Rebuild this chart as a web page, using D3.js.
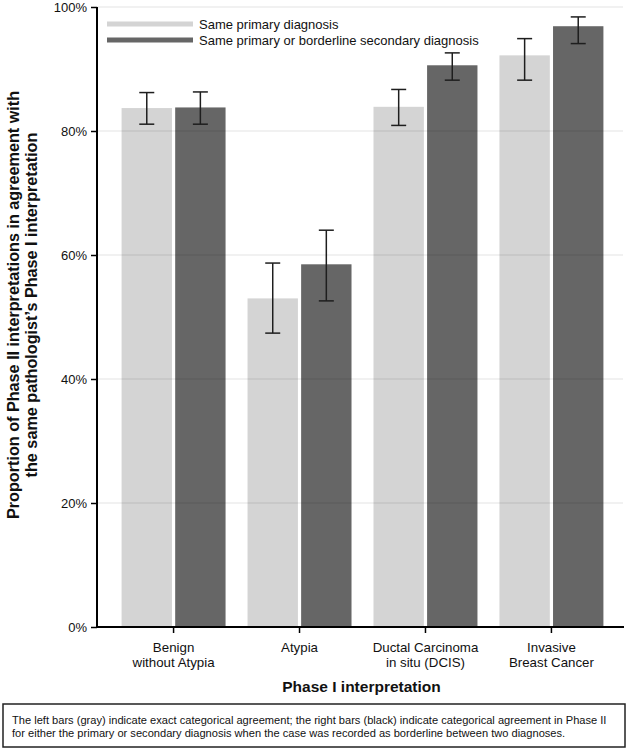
<!DOCTYPE html>
<html>
<head>
<meta charset="utf-8">
<script src="https://cdn.jsdelivr.net/npm/d3@7"></script>
<style>
  html, body { margin: 0; padding: 0; background: #fff; }
  svg { display: block; font-family: "Liberation Sans", Arial, sans-serif; }
</style>
</head>
<body>
<svg id="chart" width="628" height="750"></svg>
<script>
// ---- data ----
const categories = ["Benign\nwithout Atypia", "Atypia", "Ductal Carcinoma\nin situ (DCIS)", "Invasive\nBreast Cancer"];
const seriesNames = ["Same primary diagnosis", "Same primary or borderline secondary diagnosis"];
const samePrimary      = [83.7, 53.0, 83.9, 92.2];
const samePrimaryLow   = [81.1, 47.4, 80.9, 88.2];
const samePrimaryHigh  = [86.2, 58.7, 86.7, 94.9];
const sameOrBorder     = [83.8, 58.5, 90.6, 96.9];
const sameOrBorderLow  = [81.1, 52.6, 88.2, 94.1];
const sameOrBorderHigh = [86.3, 64.0, 92.6, 98.4];
const yTicks = [0, 20, 40, 60, 80, 100];
const yTitle = ["Proportion of Phase II interpretations in agreement with", "the same pathologist\u2019s Phase I interpretation"];
const xTitle = "Phase I interpretation";
const note = ["The left bars (gray) indicate exact categorical agreement; the right bars (black) indicate categorical agreement in Phase II",
              "for either the primary or secondary diagnosis when the case was recorded as borderline between two diagnoses."];

const colors = ["#d4d4d4", "#666666"];

const rows = categories.map((c, i) => ({
  cat: c,
  vals: [
    {s: 0, v: samePrimary[i], lo: samePrimaryLow[i], hi: samePrimaryHigh[i]},
    {s: 1, v: sameOrBorder[i], lo: sameOrBorderLow[i], hi: sameOrBorderHigh[i]}
  ]
}));

const svg = d3.select("#chart");
const pL = 97, pR = 626, pT = 7, pB = 627;

const x0 = d3.scaleBand().domain(categories).range([pL + 1, pR + 1]).paddingOuter(0.1).paddingInner(0);
const x1 = d3.scaleBand().domain([0, 1]).range([0, x0.bandwidth()]).paddingInner(0.06).paddingOuter(0.205);
const y = d3.scaleLinear().domain([0, 100]).range([pB, pT]);

// bars
const g = svg.append("g");
const groups = g.selectAll("g.grp").data(rows).enter().append("g")
  .attr("transform", d => `translate(${x0(d.cat)},0)`);
groups.selectAll("rect").data(d => d.vals).enter().append("rect")
  .attr("x", d => x1(d.s))
  .attr("width", x1.bandwidth())
  .attr("y", d => y(d.v))
  .attr("height", d => y(0) - y(d.v))
  .attr("fill", d => colors[d.s]);

// gridlines (drawn over bars, faint)
svg.append("g").selectAll("line").data(yTicks.filter(t => t > 0)).enter().append("line")
  .attr("x1", pL).attr("x2", pR - 3)
  .attr("y1", d => y(d)).attr("y2", d => y(d))
  .attr("stroke", "rgba(0,0,0,0.11)").attr("stroke-width", 1.2);

// error bars
const eb = groups.selectAll("g.eb").data(d => d.vals).enter().append("g")
  .attr("stroke", "#1e1e1e").attr("stroke-width", 1.5);
eb.append("line")
  .attr("x1", d => x1(d.s) + x1.bandwidth() / 2).attr("x2", d => x1(d.s) + x1.bandwidth() / 2)
  .attr("y1", d => y(d.lo)).attr("y2", d => y(d.hi));
eb.append("line")
  .attr("x1", d => x1(d.s) + x1.bandwidth() / 2 - 7.5).attr("x2", d => x1(d.s) + x1.bandwidth() / 2 + 7.5)
  .attr("y1", d => y(d.lo)).attr("y2", d => y(d.lo));
eb.append("line")
  .attr("x1", d => x1(d.s) + x1.bandwidth() / 2 - 7.5).attr("x2", d => x1(d.s) + x1.bandwidth() / 2 + 7.5)
  .attr("y1", d => y(d.hi)).attr("y2", d => y(d.hi));

// y axis
const yAxis = svg.append("g").attr("transform", `translate(${pL},0)`)
  .call(d3.axisLeft(y).tickValues(yTicks).tickFormat(d => d + "%").tickSize(6).tickPadding(4));
yAxis.select(".domain").attr("stroke", "#000").attr("stroke-width", 2).attr("d", `M0,${pT}V${pB}`);
yAxis.selectAll(".tick line").attr("stroke", "#000").attr("stroke-width", 1.5);
yAxis.selectAll(".tick text").attr("font-size", 13).attr("fill", "#111")
  .attr("font-family", "'Liberation Sans', Arial, sans-serif");

// x axis
const xAxis = svg.append("g").attr("transform", `translate(0,${pB})`)
  .call(d3.axisBottom(x0).tickSize(6).tickFormat(""));
xAxis.select(".domain").attr("stroke", "#000").attr("stroke-width", 2).attr("d", `M${pL},0H${pR - 2}`);
xAxis.selectAll(".tick line").attr("stroke", "#000").attr("stroke-width", 1.5);
xAxis.selectAll(".tick").each(function(d) {
  const lines = d.split("\n");
  const t = d3.select(this).append("text")
    .attr("text-anchor", "middle").attr("font-size", 13.3).attr("fill", "#111")
    .attr("font-family", "'Liberation Sans', Arial, sans-serif");
  lines.forEach((ln, i) => {
    t.append("tspan").attr("x", 0).attr("y", 24.5 + i * 15.5).text(ln);
  });
});

// x title
svg.append("text").attr("x", (pL + pR) / 2).attr("y", 692)
  .attr("text-anchor", "middle").attr("font-size", 15.5).attr("font-weight", "bold").attr("fill", "#111")
  .text(xTitle);

// y title
const yt = svg.append("text")
  .attr("transform", `translate(0,${(pT + pB) / 2 - 12}) rotate(-90)`)
  .attr("text-anchor", "middle").attr("font-size", 16.2).attr("font-weight", "bold").attr("fill", "#111");
yTitle.forEach((ln, i) => {
  yt.append("tspan").attr("x", 0).attr("y", 19 + i * 18).text(ln);
});

// legend
const leg = svg.append("g");
seriesNames.forEach((name, i) => {
  const ly = 24 + i * 16;
  leg.append("line").attr("x1", 107).attr("x2", 193).attr("y1", ly).attr("y2", ly)
    .attr("stroke", colors[i]).attr("stroke-width", 5);
  leg.append("text").attr("x", 199).attr("y", ly + 4.5).attr("font-size", 13).attr("fill", "#111").text(name);
});

// note box
svg.append("rect").attr("x", 3).attr("y", 704).attr("width", 622).attr("height", 43)
  .attr("fill", "none").attr("stroke", "#222").attr("stroke-width", 1.5);
const nt = svg.append("text").attr("font-size", 11.1).attr("fill", "#111");
note.forEach((ln, i) => {
  nt.append("tspan").attr("x", 12).attr("y", 724 + i * 12.7).text(ln);
});
</script>
</body>
</html>
